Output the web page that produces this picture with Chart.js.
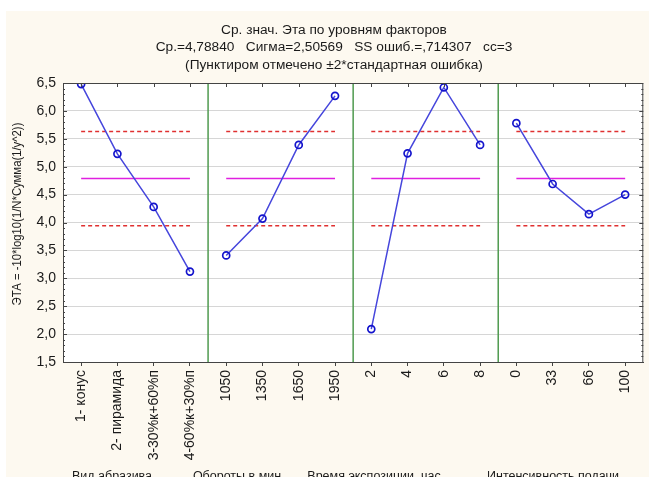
<!DOCTYPE html>
<html>
<head>
<meta charset="utf-8">
<title>Ср. знач. Эта по уровням факторов</title>
<style>
    html, body { margin: 0; padding: 0; background: #fff; }
    #wrap { width: 649px; height: 477px; }
</style>
<script src="https://cdn.jsdelivr.net/npm/chart.js"></script>
</head>
<body>
<div id="wrap"><canvas id="chartEta"></canvas></div>
<script>
    // dados
    var titulo = [
        'Ср. знач. Эта по уровням факторов',
        'Ср.=4,78840   Сигма=2,50569   SS ошиб.=,714307   сс=3',
        '(Пунктиром отмечено ±2*стандартная ошибка)'
    ];
    var tituloY = 'ЭТА = -10*log10(1/N*Сумма(1/y^2))';
    var fatores = ['Вид абразива', 'Обороты в мин', 'Время экспозиции, час', 'Интенсивность подачи'];
    var niveis = ['1- конус', '2- пирамида', '3-30%к+60%п', '4-60%к+30%п',
                  '1050', '1350', '1650', '1950',
                  '2', '4', '6', '8',
                  '0', '33', '66', '100'];
    var eta = [6.48, 5.23, 4.28, 3.12,
               3.41, 4.07, 5.39, 6.27,
               2.09, 5.24, 6.42, 5.39,
               5.78, 4.69, 4.15, 4.50];
    var media = 4.7884;
    var limSup = 5.633;
    var limInf = 3.943;
    var separadores = [3.5, 7.5, 11.5];

    var fonte = '"Liberation Sans", Arial, sans-serif';
    var posFatores = [112, 237, 374, 553]; // centro do texto em px

    var datasets = [];
    for (var g = 0; g < fatores.length; g++) {
        var ini = g * 4, fim = g * 4 + 3;
        var pts = [];
        for (var k = ini; k <= fim; k++) pts.push({x: k, y: eta[k]});
        datasets.push({
            data: pts, borderColor: '#4646dc', borderWidth: 1.5,
            pointRadius: 3.5, pointBorderColor: '#1414cc', pointBorderWidth: 1.7,
            pointBackgroundColor: 'rgba(255,255,255,0)', order: 0
        });
        datasets.push({
            data: [{x: ini, y: media}, {x: fim, y: media}],
            borderColor: '#e020e0', borderWidth: 1.4, pointRadius: 0, order: 1
        });
        datasets.push({
            data: [{x: ini, y: limSup}, {x: fim, y: limSup}],
            borderColor: '#e03030', borderWidth: 1.5, borderDash: [4, 3], pointRadius: 0, order: 1
        });
        datasets.push({
            data: [{x: ini, y: limInf}, {x: fim, y: limInf}],
            borderColor: '#e03030', borderWidth: 1.5, borderDash: [4, 3], pointRadius: 0, order: 1
        });
    }
    separadores.forEach(function(s) {
        datasets.push({
            data: [{x: s, y: 1.5}, {x: s, y: 6.5}],
            borderColor: '#4f9a4f', borderWidth: 1.5, pointRadius: 0, order: 2
        });
    });

    var fundo = {
        id: 'fundo',
        beforeDraw: function(chart) {
            var ctx = chart.ctx, a = chart.chartArea;
            ctx.save();
            ctx.fillStyle = '#ffffff';
            ctx.fillRect(0, 0, chart.width, chart.height);
            ctx.fillStyle = '#fdf9f0';
            ctx.fillRect(6, 11, chart.width - 6, chart.height - 11);
            ctx.fillStyle = '#ffffff';
            ctx.fillRect(a.left, a.top, a.right - a.left, a.bottom - a.top);
            ctx.restore();
        },
        afterDraw: function(chart) {
            var ctx = chart.ctx, a = chart.chartArea;
            var sx = chart.scales.x, sy = chart.scales.y;
            ctx.save();
            ctx.strokeStyle = '#444';
            ctx.lineWidth = 1;
            ctx.strokeRect(a.left + 0.5, a.top + 0.5, a.right - a.left - 1, a.bottom - a.top);
            ctx.beginPath();
            for (var i = 0; i < niveis.length; i++) {
                var px = Math.round(sx.getPixelForValue(i)) + 0.5;
                ctx.moveTo(px, a.top);
                ctx.lineTo(px, a.top + 4);
            }
            for (var v = 15; v <= 65; v++) {
                var py = Math.round(sy.getPixelForValue(v / 10)) + 0.5;
                var len = (v % 5 === 0) ? 4 : 2;
                ctx.moveTo(a.left, py); ctx.lineTo(a.left + len, py);
                ctx.moveTo(a.right, py); ctx.lineTo(a.right - len, py);
            }
            ctx.stroke();

            ctx.fillStyle = '#1a1a1a';
            ctx.textAlign = 'center';
            ctx.textBaseline = 'middle';
            ctx.font = '13.7px ' + fonte;
            ctx.fillText(titulo[0], 334, 30);
            ctx.fillText(titulo[1], 334, 47);
            ctx.fillText(titulo[2], 334, 65);

            ctx.font = '12.5px ' + fonte;
            ctx.textBaseline = 'alphabetic';
            for (var f = 0; f < fatores.length; f++) {
                ctx.fillText(fatores[f], posFatores[f], 480);
            }

            // titulo do eixo Y, um pouco condensado como no original
            ctx.font = '13px ' + fonte;
            ctx.translate(17, 214);
            ctx.rotate(-Math.PI / 2);
            ctx.scale(0.87, 1);
            ctx.textBaseline = 'middle';
            ctx.fillText(tituloY, 0, 0);
            ctx.restore();
        }
    };

    var ctxEta = document.getElementById('chartEta').getContext('2d');
    var chartEta = new Chart(ctxEta, {
        type: 'line',
        data: { datasets: datasets },
        options: {
            responsive: true,
            maintainAspectRatio: false,
            animation: false,
            layout: { padding: { top: 83, right: 4, left: 0, bottom: 0 } },
            plugins: {
                legend: { display: false },
                tooltip: { enabled: false }
            },
            scales: {
                x: {
                    type: 'linear',
                    min: -0.5,
                    max: 15.5,
                    afterBuildTicks: function(s) {
                        s.ticks = niveis.map(function(_, i) { return {value: i}; });
                    },
                    afterFit: function(s) { s.height = 115; },
                    ticks: {
                        autoSkip: false,
                        maxRotation: 90,
                        minRotation: 90,
                        padding: 4,
                        color: '#1a1a1a',
                        font: { family: fonte, size: 14 },
                        callback: function(v) { return niveis[v]; }
                    },
                    grid: { display: true, drawOnChartArea: false, drawTicks: true, tickLength: 4, color: '#444' },
                    border: { display: true, color: '#444' }
                },
                y: {
                    min: 1.5,
                    max: 6.5,
                    afterFit: function(s) { s.width = 63; },
                    ticks: {
                        stepSize: 0.5,
                        padding: 7,
                        color: '#1a1a1a',
                        font: { family: fonte, size: 14 },
                        callback: function(v) { return v.toFixed(1).replace('.', ','); }
                    },
                    grid: { color: '#d6d6d6', drawTicks: false },
                    border: { display: true, color: '#444' }
                }
            }
        },
        plugins: [fundo]
    });
</script>
</body>
</html>
